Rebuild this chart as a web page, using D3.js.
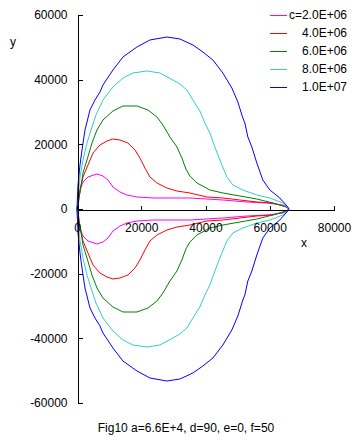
<!DOCTYPE html>
<html><head><meta charset="utf-8">
<script src="https://cdn.jsdelivr.net/npm/d3@7"></script>
<style>
body{margin:0;background:#fff;}
text{font-family:"Liberation Sans",Arial,sans-serif;font-size:12px;fill:#000;}
</style></head><body>
<svg id="c" width="358" height="444"></svg>
<script>
const seriesLabels = ["c=2.0E+06","4.0E+06","6.0E+06","8.0E+06","1.0E+07"];
const seriesColors = ["#ff00ff","#ff0000","#008000","#33cccc","#0000ff"];
const xTicks = [0,20000,40000,60000,80000];
const yTicks = [-60000,-40000,-20000,0,20000,40000,60000];
const caption = "Fig10 a=6.6E+4, d=90, e=0, f=50";

// upper halves (lower half is the mirror image)
const xC2 = [0,311,933,1866,3421,6220,8086,9641,11196,13373,15550,18660,23636,35143,45406,52870,59090,64066,66000];
const yC2 = [0,1237,5877,8351,9898,10825,10207,8970,6804,5258,4330,3712,3403,3403,2784,2165,1856,1237,0];
const xC4 = [0,311,933,1866,3421,4976,7153,9330,11196,13373,15861,18038,19593,21148,22703,24880,27990,31100,35143,40430,45406,50693,55980,60956,65310,66000];
const yC4 = [0,619,5877,9898,13609,17321,19796,21033,21652,21342,20414,18249,15775,12682,9898,8042,6495,5567,4949,3712,3403,2784,2165,1856,619,0];
const xC6 = [0,311,933,1866,3110,4665,6220,8086,11196,14306,18660,22081,24880,26746,28923,31100,32655,33899,35143,37320,41363,45406,50693,55980,60956,65310,66000];
const yC6 = [0,2784,4949,11134,15156,20414,24435,27528,30312,31859,31859,30621,28456,25981,22271,19178,15775,12372,10207,8042,5877,4949,4021,3093,1856,619,0];
const xC8 = [0,311,933,1866,3110,4665,5909,8086,11196,14306,17416,21770,25813,29856,32033,34210,36076,38253,39808,41363,42918,44473,46650,48516,51626,55980,60023,64066,66000];
const yC8 = [0,3712,9898,15156,20414,25363,29075,33714,37735,40518,42065,42683,42065,39900,38663,36807,33714,30312,26601,23508,19178,15156,9898,7423,5877,4330,3403,1856,0];
const xC10 = [0,311,933,1555,2488,4043,5598,7153,8086,11196,14306,18660,22703,27990,32033,36076,39186,42296,45406,48205,50071,51626,52248,53181,54425,55980,57846,60023,63133,65621,66000];
const yC10 = [0,7423,13609,18249,24435,30621,33714,36189,38354,42993,47014,50107,52272,53200,52581,50725,48560,46086,42065,37426,33096,28147,26601,22271,19178,14230,8970,5877,3403,619,0];

const seriesX = [xC2,xC4,xC6,xC8,xC10];
const seriesY = [yC2,yC4,yC6,yC8,yC10];

const svg = d3.select("#c");
const x = d3.scaleLinear().domain([0,80000]).range([77,334]);
const y = d3.scaleLinear().domain([-60000,60000]).range([403,15]);

const line = d3.line().x(d=>x(d[0])).y(d=>y(d[1]));

seriesX.forEach((xs,i)=>{
  const ys = seriesY[i];
  const upper = xs.map((v,j)=>[v,ys[j]]);
  const lower = xs.map((v,j)=>[v,-ys[j]]).reverse();
  svg.append("path")
    .attr("d", line(upper.concat(lower)))
    .attr("fill","none")
    .attr("stroke",seriesColors[i])
    .attr("stroke-width",1);
});

const fmt = d=>String(d);
const gx = svg.append("g").attr("transform",`translate(0,${y(0)+0.5})`)
  .call(d3.axisBottom(x).tickValues(xTicks).tickSizeInner(-4).tickSizeOuter(0).tickPadding(14).tickFormat(fmt));
const gy = svg.append("g").attr("transform",`translate(${x(0)+0.5},0)`)
  .call(d3.axisLeft(y).tickValues(yTicks).tickSizeInner(-5).tickSizeOuter(0).tickPadding(10).tickFormat(fmt));
[gx,gy].forEach(g=>{
  g.selectAll("path,line").attr("stroke","#000").attr("shape-rendering","crispEdges");
  g.selectAll("text").style("font-family",'"Liberation Sans",Arial,sans-serif').style("font-size","12px").attr("fill","#000");
});

svg.append("text").attr("x",304).attr("y",247).attr("text-anchor","middle").text("x");
svg.append("text").attr("x",13).attr("y",46).attr("text-anchor","middle").text("y");

const leg = svg.append("g");
seriesLabels.forEach((lab,i)=>{
  const yy = 15 + i*18.1;
  leg.append("line").attr("x1",270).attr("x2",287).attr("y1",Math.round(yy)+0.5).attr("y2",Math.round(yy)+0.5)
    .attr("stroke",seriesColors[i]).attr("stroke-width",1.5).attr("shape-rendering","crispEdges");
  leg.append("text").attr("x",347).attr("y",yy+4).attr("text-anchor","end").text(lab);
});

svg.append("text").attr("x",186).attr("y",432).attr("text-anchor","middle").text(caption);
</script>
</body></html>
